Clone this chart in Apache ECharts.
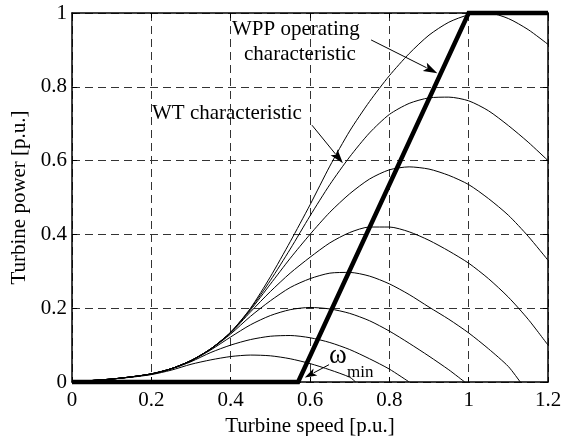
<!DOCTYPE html>
<html><head><meta charset="utf-8">
<script src="https://cdn.jsdelivr.net/npm/echarts@6/dist/echarts.min.js"></script>
<style>html,body{margin:0;padding:0;background:#fff}#c{width:563px;height:436px}</style>
</head><body><div id="c"></div><script>
// Turbine speed grid [p.u.]
const speed = [0,0.05,0.1,0.15,0.2,0.25,0.3,0.35,0.4,0.45,0.5,0.55,0.6,0.65,0.7,0.75,0.8,0.85,0.9,0.95,1.0,1.05,1.1,1.15,1.2];
// WT characteristics (turbine power [p.u.]) for decreasing wind speeds
const powerA = [0,0.004,0.008,0.014,0.022,0.036,0.058,0.09,0.135,0.2,0.285,0.38,0.48,0.585,0.68,0.76,0.83,0.89,0.94,0.975,0.995,1.0,0.985,0.955,0.915];
const powerB = [0,0.004,0.008,0.014,0.022,0.036,0.058,0.09,0.135,0.198,0.275,0.36,0.45,0.535,0.61,0.675,0.725,0.755,0.77,0.772,0.762,0.735,0.695,0.65,0.6];
const powerC = [0,0.004,0.008,0.014,0.022,0.036,0.058,0.09,0.134,0.195,0.265,0.335,0.4,0.46,0.51,0.55,0.575,0.583,0.577,0.56,0.535,0.497,0.452,0.395,0.33];
const powerD = [0,0.004,0.008,0.014,0.022,0.036,0.058,0.09,0.133,0.19,0.245,0.295,0.338,0.377,0.405,0.42,0.42,0.407,0.384,0.355,0.322,0.28,0.23,0.17,0.1];
const powerE = [0,0.004,0.008,0.014,0.022,0.036,0.058,0.089,0.13,0.178,0.22,0.256,0.28,0.295,0.297,0.287,0.266,0.237,0.203,0.17,0.133,0.09,0.042];
const powerF = [0,0.004,0.008,0.014,0.022,0.036,0.057,0.087,0.122,0.155,0.18,0.196,0.202,0.198,0.186,0.166,0.138,0.105,0.07,0.033];
const powerG = [0,0.004,0.008,0.014,0.021,0.035,0.055,0.08,0.1,0.115,0.124,0.126,0.12,0.107,0.088,0.063,0.035];
const powerH = [0,0.004,0.008,0.013,0.02,0.032,0.048,0.06,0.069,0.073,0.071,0.063,0.05,0.033,0.013];
const wtCurves = [powerA, powerB, powerC, powerD, powerE, powerF, powerG, powerH];
// speed where each curve falls back to zero power (null: stays above zero up to 1.2)
const wtZeroSpeed = [null, null, null, null, 1.13, 0.99, 0.85, 0.715];
// WPP operating characteristic
const wppSpeed = [0, 0.57, 1.0, 1.2];
const wppPower = [0, 0, 1, 1];
const xTickLabels = ['0','0.2','0.4','0.6','0.8','1','1.2'];
const yTickLabels = ['0','0.2','0.4','0.6','0.8','1'];

const FONT = 'Liberation Serif';
const chart = echarts.init(document.getElementById('c'), null, {renderer: 'canvas'});

const series = wtCurves.map((p, i) => {
  const data = p.map((v, k) => [speed[k], v]);
  if (wtZeroSpeed[i] !== null) data.push([wtZeroSpeed[i], 0]);
  return {
    type: 'line', data, showSymbol: false, smooth: 0.25,
    lineStyle: {color: '#000', width: 1}, silent: true, z: 3
  };
});
series.push({
  type: 'line', data: wppSpeed.map((s, k) => [s, wppPower[k]]), showSymbol: false,
  lineStyle: {color: '#000', width: 4.5, cap: 'butt', join: 'miter'}, silent: true, z: 5, clip: false
});

const tickStyle = {inside: true, length: 5, lineStyle: {color: '#000', width: 1}};
const gridLine = {show: true, lineStyle: {color: '#333', width: 1, type: [8, 5]}};
const labelStyle = {color: '#000', fontFamily: FONT, fontSize: 21};

chart.setOption({
  animation: false,
  backgroundColor: '#fff',
  grid: {left: 72, right: 15, top: 13, bottom: 54, containLabel: false, outerBoundsMode: 'none'},
  xAxis: [{
    type: 'value', min: 0, max: 1.2, interval: 0.2, position: 'bottom',
    axisLine: {show: true, onZero: false, lineStyle: {color: '#000', width: 1.5}},
    axisTick: tickStyle,
    axisLabel: Object.assign({margin: 8, formatter: v => xTickLabels[Math.round(v / 0.2)]}, labelStyle),
    splitLine: gridLine,
    name: 'Turbine speed [p.u.]', nameLocation: 'middle', nameGap: 31,
    nameTextStyle: {color: '#000', fontFamily: FONT, fontSize: 21}
  }, {
    type: 'value', min: 0, max: 1.2, interval: 0.2, position: 'top',
    axisLine: {show: true, onZero: false, lineStyle: {color: '#000', width: 1.5}},
    axisTick: tickStyle, axisLabel: {show: false}, splitLine: {show: false}
  }],
  yAxis: [{
    type: 'value', min: 0, max: 1, interval: 0.2, position: 'left',
    axisLine: {show: true, onZero: false, lineStyle: {color: '#000', width: 1.5}},
    axisTick: tickStyle,
    axisLabel: Object.assign({margin: 5, formatter: v => yTickLabels[Math.round(v / 0.2)]}, labelStyle),
    splitLine: gridLine,
    name: 'Turbine power [p.u.]', nameLocation: 'middle', nameGap: 42, nameRotate: 90,
    nameTextStyle: {color: '#000', fontFamily: FONT, fontSize: 21}
  }, {
    type: 'value', min: 0, max: 1, interval: 0.2, position: 'right',
    axisLine: {show: true, onZero: false, lineStyle: {color: '#000', width: 1.5}},
    axisTick: tickStyle, axisLabel: {show: false}, splitLine: {show: false}
  }],
  series
});

function px(pt) { return chart.convertToPixel({xAxisIndex: 0, yAxisIndex: 0}, pt); }
function arrow(tail, tip, headLen, headHalf) {
  const a = px(tail), b = px(tip);
  const dx = b[0] - a[0], dy = b[1] - a[1];
  const L = Math.hypot(dx, dy), ux = dx / L, uy = dy / L;
  const bx = b[0] - ux * headLen, by = b[1] - uy * headLen;
  return [
    {type: 'line', shape: {x1: a[0], y1: a[1], x2: bx + ux * 2, y2: by + uy * 2}, style: {stroke: '#000', lineWidth: 1}, z: 10},
    {type: 'polygon', shape: {points: [[b[0], b[1]], [bx - uy * headHalf, by + ux * headHalf], [bx + ux * 3, by + uy * 3], [bx + uy * headHalf, by - ux * headHalf]]}, style: {fill: '#000'}, z: 10}
  ];
}
const txt = (x, y, s, size, align) => ({type: 'text', x, y, z: 10,
  style: {text: s, fill: '#000', font: size + 'px "' + FONT + '"', textAlign: align || 'left', textVerticalAlign: 'middle'}});

chart.setOption({
  graphic: [
    txt(232, 29, 'WPP operating', 21),
    txt(244, 54, 'characteristic', 21),
    txt(152, 113, 'WT characteristic', 21),
    txt(329, 356, 'ω', 27),
    txt(347, 373, 'min', 17),
    ...arrow([0.754, 0.927], [0.921, 0.837], 14, 4.5),
    ...arrow([0.605, 0.696], [0.683, 0.593], 14, 4.5),
    ...arrow([0.648, 0.047], [0.587, 0.012], 12, 4)
  ]
});
</script></body></html>
